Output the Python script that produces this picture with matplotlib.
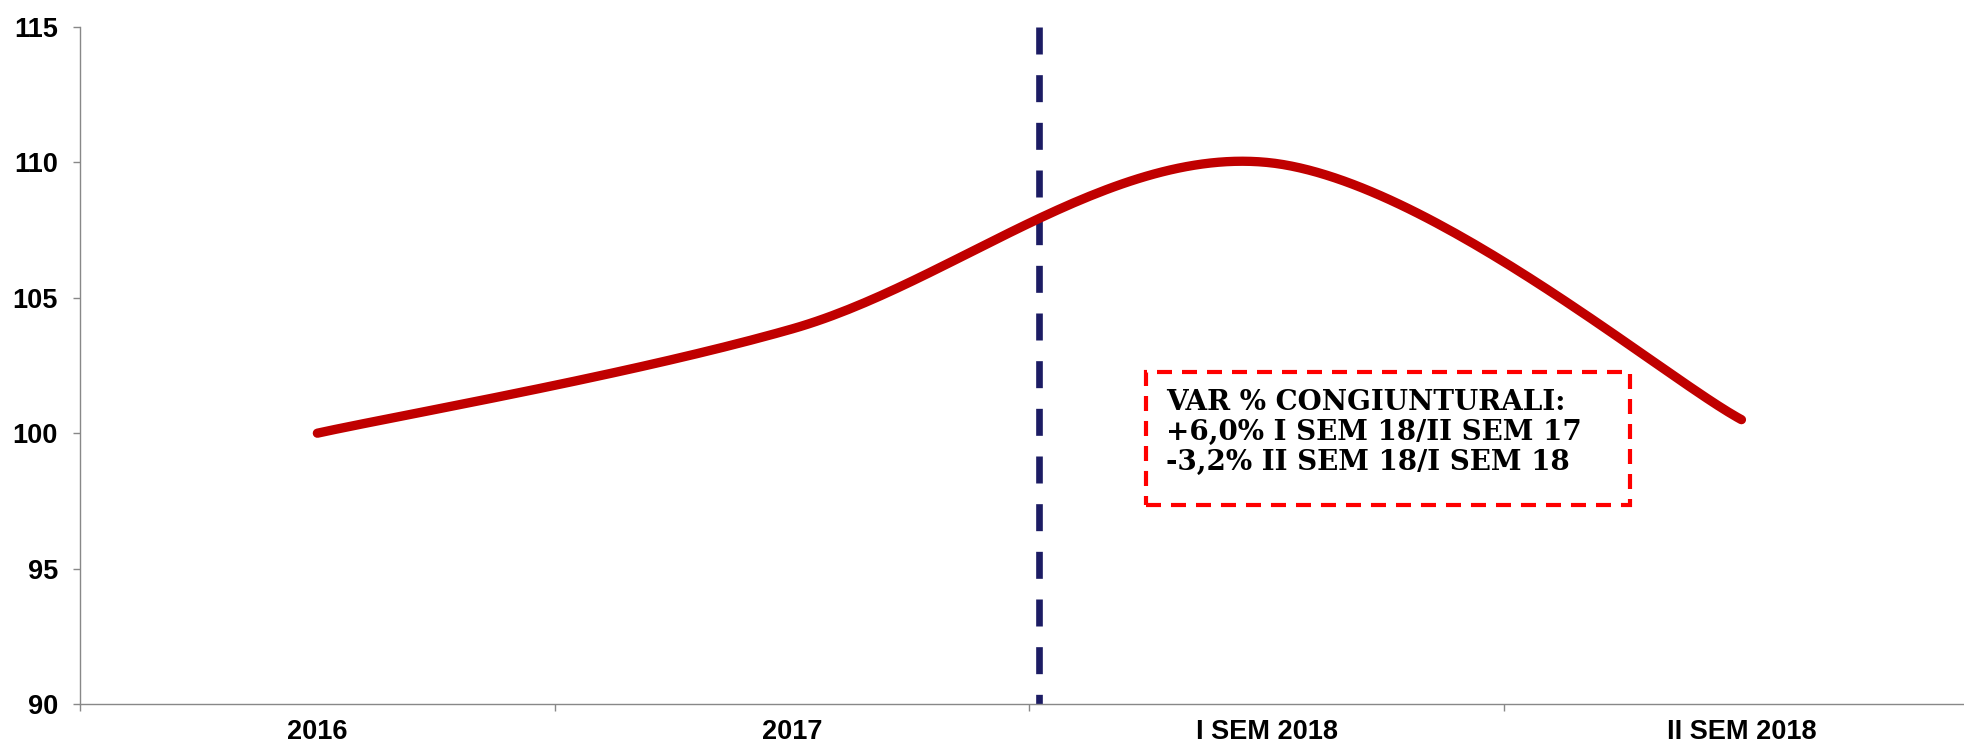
import numpy as np
import matplotlib
matplotlib.use("Agg")
import matplotlib.pyplot as plt
from matplotlib.patches import Rectangle

# data
categories = ["2016", "2017", "I SEM 2018", "II SEM 2018"]
values = [100.0, 103.85, 110.0, 100.5]
y_ticks = [90, 95, 100, 105, 110, 115]
note_lines = ["VAR % CONGIUNTURALI:",
              "+6,0% I SEM 18/II SEM 17",
              "-3,2% II SEM 18/I SEM 18"]
SEP_X = 1.52  # separator between 2017 and the semesters

W, H = 1965, 746


def px(x, y):
    return x / W, 1 - y / H


def excel_smooth(xs, ys, n=60):
    # bezier smoothing like Excel's "smoothed line"
    p = np.column_stack([xs, ys]).astype(float)
    pts = []
    for i in range(len(p) - 1):
        p0 = p[i - 1] if i > 0 else p[i]
        p1, p2 = p[i], p[i + 1]
        p3 = p[i + 2] if i + 2 < len(p) else p[i + 1]
        c1 = p1 + (p2 - p0) / 6
        c2 = p2 - (p3 - p1) / 6
        t = np.linspace(0, 1, n)[:, None]
        seg = (1 - t) ** 3 * p1 + 3 * (1 - t) ** 2 * t * c1 + 3 * (1 - t) * t ** 2 * c2 + t ** 3 * p2
        pts.append(seg if i == 0 else seg[1:])
    pts = np.vstack(pts)
    return pts[:, 0], pts[:, 1]


fig = plt.figure(figsize=(W / 100, H / 100), dpi=100)
left, right, top, bottom = 80, 80 + 4 * 474.7, 27, 704
ax = fig.add_axes([left / W, 1 - bottom / H, (right - left) / W, (bottom - top) / H])

x = np.arange(len(categories))
sx, sy = excel_smooth(x, values)
ax.plot(sx, sy, color="#C00000", lw=6.7, solid_capstyle="round", zorder=3)

ax.plot([SEP_X, SEP_X], [115, 90], color="#1C1C64", lw=4.8,
        linestyle=(0, (4.05, 3.1)), dash_capstyle="butt", zorder=2, clip_on=False)

ax.set_xlim(-0.5, len(categories) - 0.5)
ax.set_ylim(90, 115)

for s in ["top", "right"]:
    ax.spines[s].set_visible(False)
for s in ["left", "bottom"]:
    ax.spines[s].set_color("#888888")
    ax.spines[s].set_linewidth(1.0)

tick_font = dict(fontfamily="Liberation Sans", fontweight="bold", fontsize=19.5)

ax.set_yticks(y_ticks)
ax.set_yticklabels([str(v) for v in y_ticks], **tick_font)
ax.tick_params(axis="y", direction="out", length=5, width=1, color="#888888", pad=11)

ax.set_xticks(np.arange(len(categories) + 1) - 0.5)
ax.set_xticklabels([])
ax.tick_params(axis="x", which="major", direction="out", length=5, width=1, color="#888888")
ax.set_xticks(x, minor=True)
ax.set_xticklabels(categories, minor=True, **tick_font)
ax.tick_params(axis="x", which="minor", length=0, pad=11)

# annotation box
bx0, by0 = px(1146, 505)
bx1, by1 = px(1630, 372)
fig.patches.append(Rectangle((bx0, by0), bx1 - bx0, by1 - by0, transform=fig.transFigure,
                             fill=False, edgecolor="#FF0000", lw=3,
                             linestyle=(0, (3.6, 2.4))))
for i, line in enumerate(note_lines):
    tx, ty = px(1166, 402 + 30 * i)
    fig.text(tx, ty, line, fontfamily="DejaVu Serif", fontweight="bold",
             fontsize=20, va="center", ha="left")

fig.savefig("out.png", dpi=100)
